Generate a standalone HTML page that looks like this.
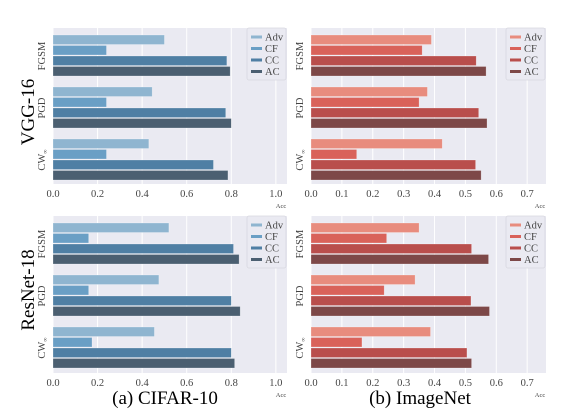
<!DOCTYPE html>
<html><head><meta charset="utf-8"><style>
html,body{margin:0;padding:0;background:#fff;}
svg{display:block;font-family:"Liberation Serif","DejaVu Serif",serif;}
</style></head><body>
<svg id="fig" width="575" height="411" viewBox="0 0 575 411"></svg>
<script>
const groups = ["FGSM","PGD","CW∞"];
const seriesNames = ["Adv","CF","CC","AC"];
const cifarVggValues = [[0.50,0.24,0.78,0.795],[0.445,0.24,0.775,0.80],[0.43,0.24,0.72,0.785]];
const imagenetVggValues = [[0.39,0.36,0.535,0.567],[0.377,0.35,0.543,0.57],[0.425,0.148,0.533,0.551]];
const cifarResValues = [[0.52,0.16,0.81,0.835],[0.475,0.16,0.80,0.84],[0.455,0.175,0.80,0.815]];
const imagenetResValues = [[0.35,0.245,0.52,0.575],[0.337,0.237,0.518,0.578],[0.387,0.165,0.505,0.52]];
const cifarTicks = [0,0.2,0.4,0.6,0.8,1.0];
const imagenetTicks = [0,0.1,0.2,0.3,0.4,0.5,0.6,0.7];
const blues = ["#8fb5d0","#6a9fc5","#4f7fa4","#4b5f71"];
const reds = ["#e88c7e","#d9625a","#b94e4c","#7d4848"];

const NS="http://www.w3.org/2000/svg";
const svg=document.getElementById('fig');
function mk(tag,attrs,parent){const e=document.createElementNS(NS,tag);for(const k in attrs)e.setAttribute(k,attrs[k]);(parent||svg).appendChild(e);return e;}

function panel(id,x0,x1,y0,y1,max,ticks,values,colors,legX,legY,dec){
  const g=mk('g',{});
  
  
  const xs=v=>x0+(v/max)*(x1-x0);
  const bg=mk('rect',{x:x0,y:y0,width:x1-x0,height:y1-y0,fill:'#eaeaf2'},g);
  
  
  ticks.forEach(t=>{
    const l=mk('line',{x1:xs(t),x2:xs(t),y1:y0,y2:y1,stroke:'#fff','stroke-width':1},g);
    
    
    const tx=mk('text',{x:xs(t),y:y1+13,'font-size':10.5,fill:'#444','text-anchor':'middle'},g);
    tx.textContent=t.toFixed(1);
    
    
  });
  const acc=mk('text',{x:x1-6,y:y1+24,'font-size':6.5,fill:'#444','text-anchor':'middle'},g);
  acc.textContent='Acc';
  
  
  const gStart=y0+7, gStep=52, slot=10.5, bh=9.5;
  groups.forEach((gn,gi)=>{
    values[gi].forEach((v,si)=>{
      const r=mk('rect',{x:x0,y:gStart+gi*gStep+si*slot,width:xs(v)-x0,height:bh,fill:colors[si],stroke:'#fff','stroke-opacity':0.4,'stroke-width':0.6},g);
      
      
    });
    const cy=gStart+gi*gStep+2*slot;
    const lx=x0-8;
    const t=mk('text',{x:lx,y:cy,'font-size':10.5,fill:'#444','text-anchor':'middle',transform:`rotate(-90 ${lx} ${cy})`},g);
    if(gn==='CW∞'){t.innerHTML='CW<tspan font-size="6" dy="2">∞</tspan>';}else t.textContent=gn;
    
    
  });
  const lg=mk('g',{},g);
  
  
  mk('rect',{x:legX,y:legY,width:39,height:52,fill:'#eaeaf2',stroke:'#d8d8e0','stroke-width':0.8,rx:2},lg);
  seriesNames.forEach((s,i)=>{
    const yy=legY+9+i*11.5;
    mk('rect',{x:legX+4,y:yy-1.5,width:11,height:3,fill:colors[i]},lg);
    const t=mk('text',{x:legX+18,y:yy+3.5,'font-size':10.5,fill:'#444'},lg);
    t.textContent=s;
    
    
  });
}
panel('cifar-vgg16-chart',53,287,28,184,1.05,cifarTicks,cifarVggValues,blues,247,28);
panel('imagenet-vgg16-chart',311,546,28,184,0.761,imagenetTicks,imagenetVggValues,reds,506,28);
panel('cifar-resnet18-chart',53,287,216,373,1.05,cifarTicks,cifarResValues,blues,247,216);
panel('imagenet-resnet18-chart',311,546,216,373,0.761,imagenetTicks,imagenetResValues,reds,506,216);

function label(txt,x,y,size,rot,name){
  const t=mk('text',{x:x,y:y,'font-size':size,fill:'#000','text-anchor':'middle'});
  if(rot)t.setAttribute('transform',`rotate(-90 ${x} ${y})`);
  t.textContent=txt;
  
  
}
label('VGG-16',34,112,19,true,'row-label-vgg16');
label('ResNet-18',34,290,19,true,'row-label-resnet18');
label('(a) CIFAR-10',165,404,19,false,'caption-cifar10');
label('(b) ImageNet',420,404,19,false,'caption-imagenet');
</script>
</body></html>
